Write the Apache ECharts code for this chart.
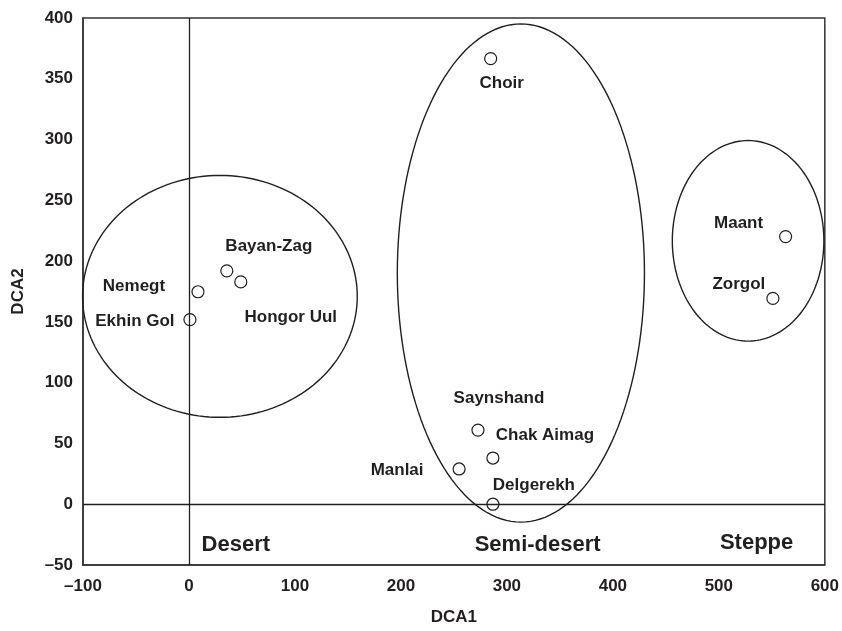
<!DOCTYPE html>
<html>
<head>
<meta charset="utf-8">
<script src="https://cdn.jsdelivr.net/npm/echarts@6/dist/echarts.min.js"></script>
<style>
html, body { margin: 0; padding: 0; background: #fff; }
#main { width: 842px; height: 631px; }
</style>
</head>
<body>
<div id="main"></div>
<script>
// sites (DCA1, DCA2)
var sites = ['Choir', 'Bayan-Zag', 'Hongor Uul', 'Nemegt', 'Ekhin Gol', 'Maant', 'Zorgol', 'Saynshand', 'Chak Aimag', 'Manlai', 'Delgerekh'];
var dca1 = [284.7, 35.7, 48.9, 8.5, 0.9, 563, 551, 272.7, 286.8, 254.9, 286.8];
var dca2 = [366.6, 192.0, 182.9, 174.8, 151.9, 220.2, 169.3, 61, 38, 29, 0];

// groupings: centre x, centre y, half width, half height (data units)
var groupCx = [29.2, 313.2, 527.6];
var groupCy = [171.0, 190.2, 216.7];
var groupRx = [129.6, 116.6, 71.5];
var groupRy = [99.5, 204.9, 82.5];

// group names and where they sit
var regions = ['Desert', 'Semi-desert', 'Steppe'];
var regionX = [44.2, 329, 535.6];
var regionY = [-33.4, -33.3, -31.5];

// label offsets (px) for each site name
var labelOffset = {
    'Choir': [11, 25],
    'Bayan-Zag': [42, -25],
    'Hongor Uul': [50, 35],
    'Nemegt': [-64, -5],
    'Ekhin Gol': [-55, 2],
    'Maant': [-47, -13],
    'Zorgol': [-34, -14],
    'Saynshand': [21, -32],
    'Chak Aimag': [52, -23],
    'Manlai': [-62, 1],
    'Delgerekh': [41, -19]
};

var ink = '#231f20';
var font = "'Liberation Sans', Arial, sans-serif";

var chart = echarts.init(document.getElementById('main'));

var siteData = sites.map(function (name, i) {
    return {
        name: name,
        value: [dca1[i], dca2[i]],
        label: { offset: labelOffset[name] }
    };
});

var ellipseData = groupCx.map(function (cx, i) {
    return [cx, groupCy[i], groupRx[i], groupRy[i]];
});

var regionData = regions.map(function (name, i) {
    return { name: name, value: [regionX[i], regionY[i]] };
});

function dash(v) {
    return String(v).replace('-', '\u2013');
}

var textBase = {
    fontFamily: font, fontWeight: 'bold', color: ink,
    textBorderWidth: 0, textBorderColor: 'transparent', textShadowBlur: 0
};

var option = {
    animation: false,
    backgroundColor: '#fff',
    grid: {
        left: 83, right: 15, top: 18, bottom: 64,
        show: true,
        borderColor: '#333',
        borderWidth: 1.5
    },
    xAxis: {
        type: 'value',
        min: -100, max: 600, interval: 100,
        name: 'DCA1',
        nameLocation: 'middle',
        nameGap: 44,
        nameTextStyle: { fontFamily: font, fontWeight: 'bold', fontSize: 17, color: ink },
        axisLine: { onZero: false, lineStyle: { color: '#333', width: 1.5 } },
        axisTick: { show: false },
        splitLine: { show: false },
        axisLabel: {
            formatter: dash,
            margin: 13,
            fontFamily: font, fontWeight: 'bold', fontSize: 17, color: ink
        }
    },
    yAxis: {
        type: 'value',
        min: -50, max: 400, interval: 50,
        name: 'DCA2',
        nameLocation: 'middle',
        nameGap: 56,
        nameTextStyle: { fontFamily: font, fontWeight: 'bold', fontSize: 17, color: ink },
        axisLine: { onZero: false, lineStyle: { color: '#333', width: 1.5 } },
        axisTick: { show: false },
        splitLine: { show: false },
        axisLabel: {
            formatter: dash,
            margin: 10,
            fontFamily: font, fontWeight: 'bold', fontSize: 17, color: ink
        }
    },
    series: [
        {
            type: 'custom',
            silent: true,
            z: 1,
            renderItem: function (params, api) {
                var cx = api.value(0), cy = api.value(1);
                var rx = api.value(2), ry = api.value(3);
                var pts = [];
                for (var k = 0; k < 160; k++) {
                    var t = k / 160 * Math.PI * 2;
                    pts.push(api.coord([cx + rx * Math.cos(t), cy + ry * Math.sin(t)]));
                }
                return {
                    type: 'polygon',
                    shape: { points: pts },
                    style: { fill: 'none', stroke: ink, lineWidth: 1.4 }
                };
            },
            encode: { x: 0, y: 1 },
            data: ellipseData
        },
        {
            type: 'scatter',
            z: 3,
            symbol: 'circle',
            symbolSize: 12,
            itemStyle: { color: '#fff', borderColor: ink, borderWidth: 1.2, opacity: 1 },
            label: Object.assign({
                show: true,
                position: 'inside',
                formatter: '{b}',
                fontSize: 17
            }, textBase),
            markLine: {
                silent: true,
                symbol: 'none',
                label: { show: false },
                lineStyle: { color: ink, width: 1.3, type: 'solid' },
                data: [{ xAxis: 0 }, { yAxis: 0 }]
            },
            data: siteData
        },
        {
            type: 'scatter',
            silent: true,
            symbolSize: 1,
            itemStyle: { color: 'rgba(0,0,0,0)', opacity: 1 },
            label: Object.assign({
                show: true,
                position: 'inside',
                formatter: '{b}',
                fontSize: 22
            }, textBase),
            data: regionData
        }
    ]
};

chart.setOption(option);
</script>
</body>
</html>
